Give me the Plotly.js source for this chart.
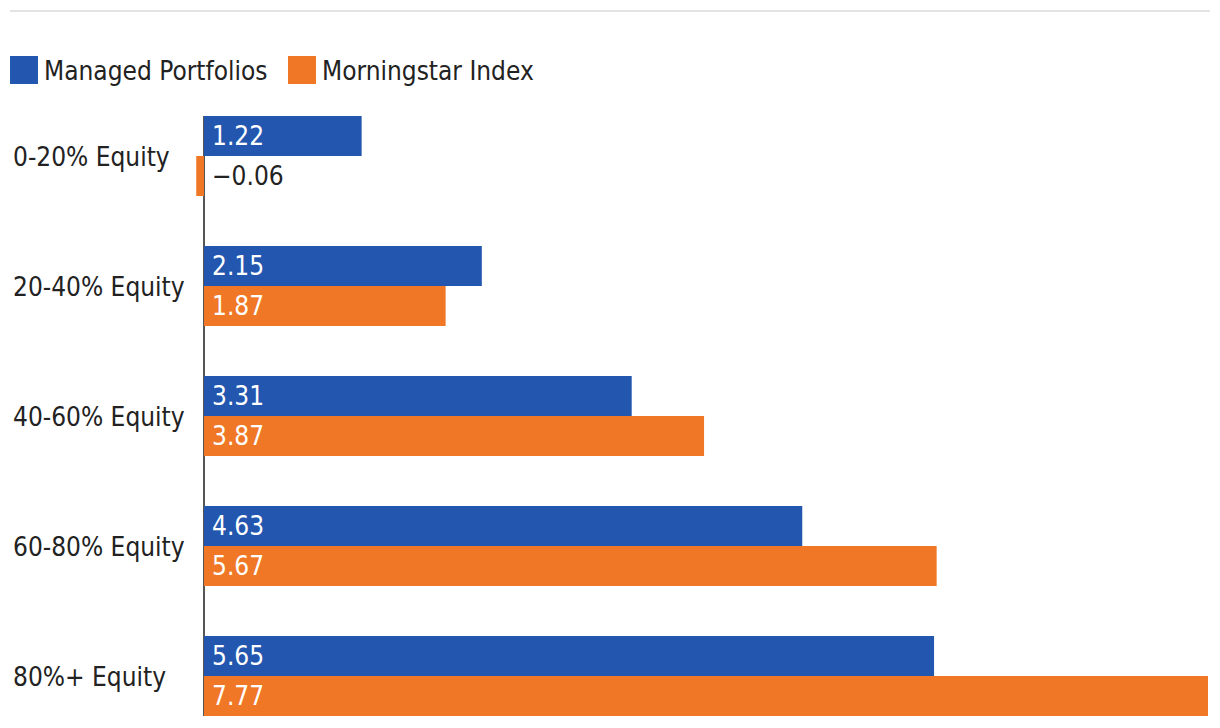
<!DOCTYPE html>
<html>
<head>
<meta charset="utf-8">
<script src="https://cdn.plot.ly/plotly-3.0.1.min.js"></script>
<style>
html,body{margin:0;padding:0;background:#fff;}
#chart{width:1220px;height:728px;}
</style>
</head>
<body>
<div id="chart"></div>
<script>
const categories = ["0-20% Equity", "20-40% Equity", "40-60% Equity", "60-80% Equity", "80%+ Equity"];
const managedPortfolios = [1.22, 2.15, 3.31, 4.63, 5.65];
const morningstarIndex = [-0.06, 1.87, 3.87, 5.67, 7.77];
const seriesNames = ["Managed Portfolios", "Morningstar Index"];

const BLUE = "#2256AF";
const ORANGE = "#EF7725";
const FONT = "'Liberation Sans Narrow', 'DejaVu Sans Condensed', 'Roboto', sans-serif";
const TXT = "#222222";
const FS = 26;

const W = 1220, H = 728;
const mL = 190, mR = 12, mT = 116, mB = 12;
const pw = W - mL - mR, ph = H - mT - mB;
const px2x = p => (p - mL) / pw;
const py2y = p => (H - mB - p) / ph;

function fmt(v){ return (v < 0 ? "\u2212" : "") + Math.abs(v).toFixed(2); }

const traces = [
  {type:"bar", orientation:"h", name:seriesNames[0], y:categories, x:managedPortfolios,
   marker:{color:BLUE}, hoverinfo:"none"},
  {type:"bar", orientation:"h", name:seriesNames[1], y:categories, x:morningstarIndex,
   marker:{color:ORANGE}, hoverinfo:"none"}
];

const annotations = [];
categories.forEach((c, i) => {
  annotations.push({x:px2x(11), xref:"paper", y:c, yref:"y", yshift:-1, text:c, showarrow:false,
    xanchor:"left", yanchor:"middle", font:{family:FONT, size:FS, color:TXT}});
  [[managedPortfolios, 20], [morningstarIndex, -20]].forEach(([arr, ys]) => {
    const v = arr[i];
    annotations.push({x:0, xref:"x", y:c, yref:"y", yshift:ys, xshift:6, text:fmt(v), showarrow:false,
      xanchor:"left", yanchor:"middle", font:{family:FONT, size:FS, color: v < 0 ? TXT : "#ffffff"}});
  });
});

const layout = {
  width:W, height:H,
  margin:{l:mL, r:mR, t:mT, b:mB, autoexpand:false},
  paper_bgcolor:"#fff", plot_bgcolor:"#fff",
  barmode:"group", bargap:0.3846, bargroupgap:0,
  font:{family:FONT, size:FS, color:TXT},
  xaxis:{range:[-0.1083, 7.77], showgrid:false, zeroline:true, zerolinecolor:"#555555", zerolinewidth:2,
    showticklabels:false, ticks:"", showline:false, fixedrange:true},
  yaxis:{type:"category", range:[4.3077, -0.3077], showgrid:false, zeroline:false,
    showticklabels:false, ticks:"", showline:false, fixedrange:true},
  showlegend:true,
  legend:{orientation:"h", x:px2x(4), xanchor:"left", y:py2y(70), yanchor:"middle",
    font:{family:FONT, size:FS, color:TXT}, traceorder:"normal", itemclick:false, itemdoubleclick:false,
    entrywidth:233, entrywidthmode:"pixels", bgcolor:"rgba(0,0,0,0)"},
  shapes:[{type:"line", xref:"paper", yref:"paper", x0:px2x(10), x1:px2x(1210), y0:py2y(11), y1:py2y(11),
    line:{color:"#e3e3e3", width:2}}],
  annotations:annotations
};

Plotly.newPlot("chart", traces, layout, {displayModeBar:false, staticPlot:true}).then(gd => {
  gd.querySelectorAll(".legend .legendpoints path").forEach(p => {
    p.setAttribute("transform", (p.getAttribute("transform") || "") + " scale(2.33)");
    p.style.strokeWidth = "0";
  });
});
</script>
</body>
</html>
